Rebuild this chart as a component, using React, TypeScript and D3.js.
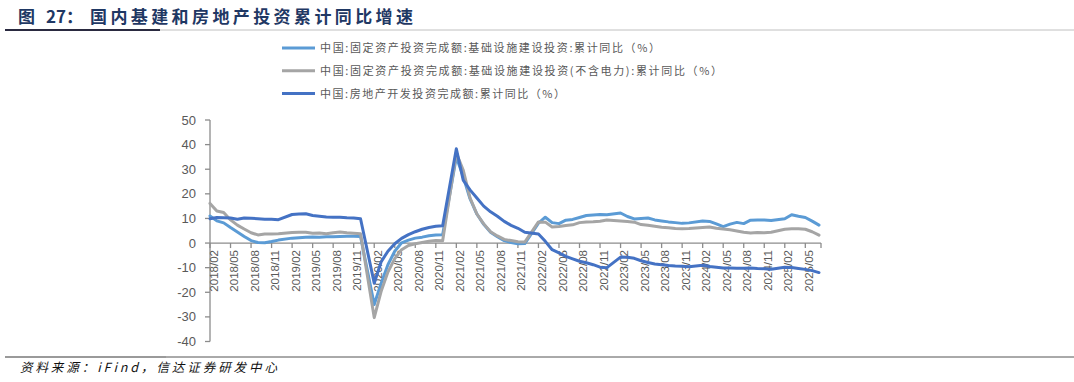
import React from "react";
import * as d3 from "d3";

// Categories: monthly, 2018/02 .. 2025/07 (January has no cumulative value)
const months: string[] = (() => {
  const out: string[] = [];
  for (let y = 2018; y <= 2025; y++) {
    for (let m = 1; m <= 12; m++) {
      if (y === 2018 && m === 1) continue;
      if (y === 2025 && m > 7) break;
      out.push(`${y}/${String(m).padStart(2, "0")}`);
    }
  }
  return out;
})();

// 基础设施建设投资:累计同比(%)
const infra: (number | null)[] = [
  // 2018/02-12
  11.0, 9.0, 8.2, 6.3, 4.5, 2.7, 1.0, 0.2, 0.1, 0.6, 1.2,
  // 2019
  null, 2.0, 2.2, 2.4, 2.5, 2.4, 2.6, 2.6, 2.7, 2.8, 2.8, 2.7,
  // 2020
  null, -25.0, -16.4, -8.8, -3.3, 0.1, 1.2, 2.0, 2.4, 3.0, 3.3, 3.4,
  // 2021
  null, 35.0, 27.0, 18.0, 11.8, 7.6, 4.4, 2.6, 1.0, 0.2, -0.3, -0.2,
  // 2022
  null, 8.1, 10.5, 8.3, 7.9, 9.3, 9.6, 10.4, 11.2, 11.4, 11.6, 11.5,
  // 2023
  null, 12.2, 10.8, 9.8, 10.0, 10.2, 9.4, 9.0, 8.6, 8.3, 8.0, 8.2,
  // 2024
  null, 9.0, 8.8, 7.8, 6.7, 7.7, 8.4, 7.9, 9.3, 9.4, 9.4, 9.2,
  // 2025/01-07
  null, 9.9, 11.5, 10.9, 10.4, 8.9, 7.3,
];

// 基础设施建设投资(不含电力):累计同比(%)
const infraExPower: (number | null)[] = [
  16.1, 13.0, 12.4, 9.4, 7.3, 5.7, 4.2, 3.3, 3.7, 3.7, 3.8,
  null, 4.3, 4.4, 4.4, 4.0, 4.1, 3.8, 4.2, 4.5, 4.2, 4.0, 3.8,
  null, -30.3, -19.7, -11.8, -6.3, -2.7, -1.0, -0.3, 0.2, 0.7, 1.0, 0.9,
  null, 36.6, 29.7, 18.4, 11.8, 7.8, 4.6, 2.9, 1.5, 1.0, 0.5, 0.4,
  null, 8.6, 8.5, 6.5, 6.7, 7.1, 7.4, 8.3, 8.6, 8.7, 8.9, 9.4,
  null, 9.0, 8.8, 8.5, 7.5, 7.2, 6.8, 6.4, 6.2, 5.9, 5.8, 5.9,
  null, 6.3, 6.5, 6.0, 5.7, 5.4, 4.9, 4.4, 4.1, 4.3, 4.2, 4.4,
  null, 5.6, 5.8, 5.8, 5.6, 4.6, 3.2,
];

// 房地产开发投资完成额:累计同比(%)
const realEstate: (number | null)[] = [
  9.9, 10.4, 10.3, 10.2, 9.7, 10.2, 10.1, 9.9, 9.7, 9.7, 9.5,
  null, 11.6, 11.8, 11.9, 11.2, 10.9, 10.6, 10.5, 10.5, 10.3, 10.2, 9.9,
  null, -16.3, -7.7, -3.3, -0.3, 1.9, 3.4, 4.6, 5.6, 6.3, 6.8, 7.0,
  null, 38.3, 25.6, 21.6, 18.3, 15.0, 12.7, 10.9, 8.8, 7.2, 6.0, 4.4,
  null, 3.7, 0.7, -2.7, -4.0, -5.4, -6.4, -7.4, -8.0, -8.8, -9.8, -10.0,
  null, -5.7, -5.8, -6.2, -7.2, -7.9, -8.5, -8.8, -9.1, -9.3, -9.4, -9.6,
  null, -9.0, -9.5, -9.8, -10.1, -10.1, -10.2, -10.2, -10.1, -10.3, -10.4, -10.6,
  null, -9.8, -9.9, -10.3, -10.7, -11.2, -12.0,
];

const yTicks = [50, 40, 30, 20, 10, 0, -10, -20, -30, -40];

const seriesNames = [
  "中国:固定资产投资完成额:基础设施建设投资:累计同比（%）",
  "中国:固定资产投资完成额:基础设施建设投资(不含电力):累计同比（%）",
  "中国:房地产开发投资完成额:累计同比（%）",
];
const seriesColors = ["#5B9BD5", "#A5A5A5", "#4472C4"];
const seriesData = [infra, infraExPower, realEstate];

const title = "图 27：国内基建和房地产投资累计同比增速";
const source = "资料来源：iFind，信达证券研发中心";

const CJK = "'Noto Sans CJK SC', 'Noto Sans', sans-serif";
const LAT = "'Liberation Sans', Arial, sans-serif";

export default function App() {
  const x = d3.scalePoint<string>().domain(months).range([210, 819]);
  const y = d3.scaleLinear().domain([-40, 50]).range([341.5, 120]);

  const line = d3
    .line<[string, number]>()
    .x((d) => x(d[0]) as number)
    .y((d) => y(d[1]));

  const paths = seriesData.map((vals) => {
    const pts: [string, number][] = [];
    vals.forEach((v, i) => {
      if (v !== null && v !== undefined) pts.push([months[i], v]);
    });
    return line(pts) || "";
  });

  const labelIdx = months.map((_, i) => i).filter((i) => i % 3 === 0);
  const legendTextLen = [340, 402, 245];

  return (
    <svg
      width={1074}
      height={382}
      style={{ position: "absolute", left: 0, top: 0, background: "#fff" }}
    >
      <rect x={0} y={0} width={1074} height={382} fill="#fff" />
      {/* Title */}
      <text x={18} y={23} fontFamily={CJK} fontWeight={700} fontSize={17} fill="#1f3864">
        图
      </text>
      <text x={46} y={23} fontFamily={CJK} fontWeight={700} fontSize={17} fill="#1f3864">
        27：
      </text>
      <text
        x={90}
        y={23}
        fontFamily={CJK}
        fontWeight={700}
        fontSize={17}
        fill="#1f3864"
        textLength={323}
        lengthAdjust="spacing"
      >
        {title.slice(5)}
      </text>
      <line x1={160} x2={1074} y1={30} y2={30} stroke="#c0c0c0" strokeWidth={1} />
      <line x1={5} x2={160} y1={30} y2={30} stroke="#2a2a40" strokeWidth={2} />

      {/* Legend */}
      {seriesNames.map((name, i) => {
        const ly = 48 + i * 22.8;
        return (
          <g key={name}>
            <line x1={282} x2={315} y1={ly} y2={ly} stroke={seriesColors[i]} strokeWidth={3} />
            <text
              x={320}
              y={ly}
              dy="0.36em"
              fontFamily={CJK}
              fontSize={11}
              fill="#595959"
              textLength={legendTextLen[i]}
              lengthAdjust="spacing"
            >
              {name}
            </text>
          </g>
        );
      })}

      {/* Y axis */}
      <line x1={210} x2={210} y1={y(50)} y2={y(-40)} stroke="#8c8c8c" strokeWidth={1.3} />
      {yTicks.map((t) => (
        <g key={t}>
          <line x1={205} x2={210} y1={y(t)} y2={y(t)} stroke="#8c8c8c" strokeWidth={1.3} />
          <text
            x={196}
            y={y(t)}
            dy="0.35em"
            textAnchor="end"
            fontFamily={LAT}
            fontSize={13}
            fill="#595959"
          >
            {t}
          </text>
        </g>
      ))}

      {/* X axis */}
      <line x1={210} x2={821} y1={y(0)} y2={y(0)} stroke="#8c8c8c" strokeWidth={1.3} />
      {labelIdx.map((i) => {
        const px = x(months[i]) as number;
        return (
          <g key={months[i]}>
            <line x1={px} x2={px} y1={y(0)} y2={y(0) + 5} stroke="#8c8c8c" strokeWidth={1.3} />
            <text
              transform={`translate(${px + 3.5},${y(0) + 7}) rotate(-90)`}
              dy="0.35em"
              textAnchor="end"
              fontFamily={LAT}
              fontSize={11.5}
              fill="#595959"
            >
              {months[i]}
            </text>
          </g>
        );
      })}
      <line x1={821} x2={821} y1={y(0)} y2={y(0) + 5} stroke="#8c8c8c" strokeWidth={1.3} />

      {/* Series */}
      {paths.map((p, i) => (
        <path
          key={i}
          d={p}
          fill="none"
          stroke={seriesColors[i]}
          strokeWidth={3}
          strokeLinejoin="round"
          strokeLinecap="round"
        />
      ))}

      {/* Footer */}
      <line x1={166} x2={1074} y1={357} y2={357} stroke="#555" strokeWidth={1} />
      <line x1={5} x2={166} y1={357} y2={357} stroke="#9a9a9a" strokeWidth={2} />
      <text
        x={20}
        y={372}
        fontFamily={CJK}
        fontStyle="italic"
        fontSize={12.5}
        fill="#111"
        textLength={257}
        lengthAdjust="spacing"
      >
        {source}
      </text>
    </svg>
  );
}
